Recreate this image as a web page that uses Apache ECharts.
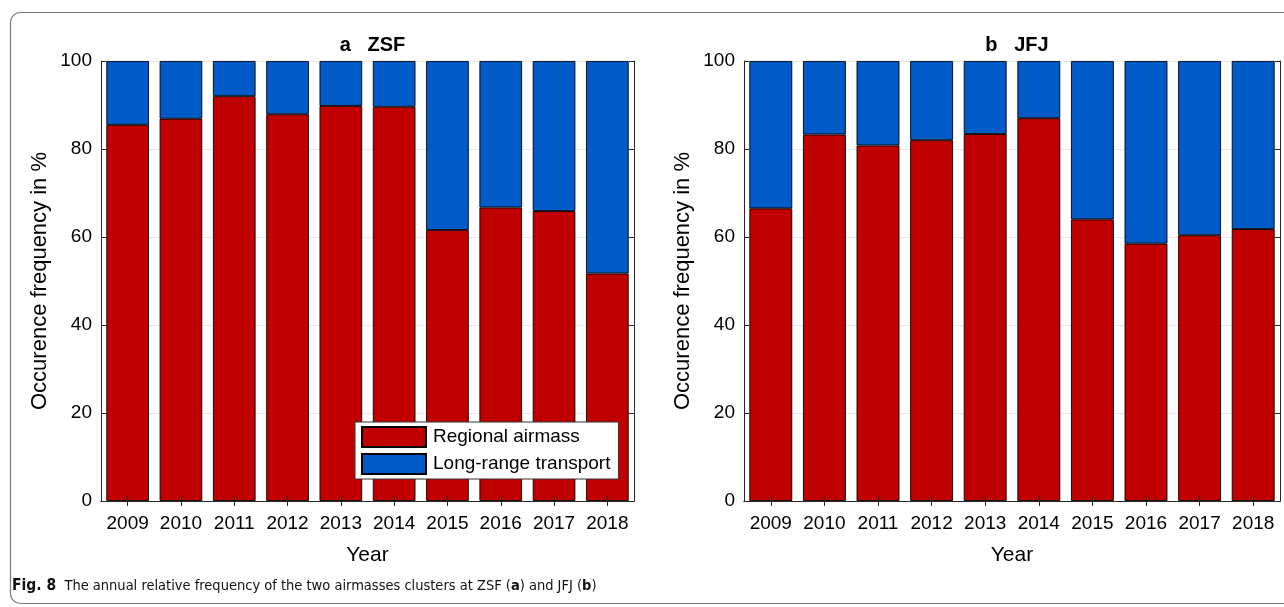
<!DOCTYPE html>
<html>
<head>
<meta charset="utf-8">
<title>Annual relative frequency of airmass clusters at ZSF and JFJ</title>
<script src="https://cdn.jsdelivr.net/npm/echarts@6/dist/echarts.min.js"></script>
<style>
  html, body { margin: 0; padding: 0; background: #fff; }
  #chart { width: 1284px; height: 607px; }
</style>
</head>
<body>
<div id="chart"></div>
<script>
// Years on the x axis of both panels
const years = ['2009', '2010', '2011', '2012', '2013', '2014', '2015', '2016', '2017', '2018'];

// ZSF: share of regional airmass and long-range transport (%)
const zsfRegional = [85.5, 86.9, 92.0, 87.9, 89.8, 89.6, 61.6, 66.7, 65.9, 51.7];
const zsfLongRange = [14.5, 13.1, 8.0, 12.1, 10.2, 10.4, 38.4, 33.3, 34.1, 48.3];

// JFJ: share of regional airmass and long-range transport (%)
const jfjRegional = [66.5, 83.3, 80.8, 82.0, 83.4, 87.0, 64.0, 58.5, 60.4, 61.8];
const jfjLongRange = [33.5, 16.7, 19.2, 18.0, 16.6, 13.0, 36.0, 41.5, 39.6, 38.2];

// Y axis ticks
const yTicks = { min: 0, max: 100, interval: 20 };

const seriesNames = ['Regional airmass', 'Long-range transport'];
const panelTitles = ['a   ZSF', 'b   JFJ'];

const RED = '#c00000';
const BLUE = '#005ac8';
const INK = '#262626';
const FONT = '"Liberation Sans", Arial, Helvetica, sans-serif';
const NARROW = '"Liberation Sans Narrow", "DejaVu Sans Condensed", sans-serif';

const chart = echarts.init(document.getElementById('chart'), null, { renderer: 'canvas' });

const grids = [
  { left: 101, top: 61, width: 533, height: 440 },
  { left: 744, top: 61, width: 536, height: 440 }
];

function xAxes(gridIndex) {
  const base = {
    type: 'category', data: years, gridIndex, z: 5,
    axisLine: { show: true, lineStyle: { color: INK, width: 1 } },
    axisTick: { show: true, inside: true, length: 5, alignWithLabel: true, interval: 0, lineStyle: { color: INK } },
    splitLine: { show: false }
  };
  return [
    Object.assign({}, base, {
      position: 'bottom',
      axisLabel: { show: true, interval: 0, color: '#000', fontFamily: FONT, fontSize: 19, margin: 13 },
      name: 'Year', nameLocation: 'middle', nameGap: 44,
      nameTextStyle: { color: '#000', fontFamily: FONT, fontSize: 21 }
    }),
    Object.assign({}, base, { position: 'top', axisLabel: { show: false } })
  ];
}

function yAxes(gridIndex) {
  const base = Object.assign({ type: 'value', gridIndex }, yTicks);
  return [
    // light grid lines behind the bars
    Object.assign({}, base, {
      position: 'left', z: 0,
      axisLine: { show: false }, axisTick: { show: false }, axisLabel: { show: false },
      splitLine: { show: true, lineStyle: { color: '#e6e6e6', width: 1 } }
    }),
    Object.assign({}, base, {
      position: 'left', z: 5,
      axisLine: { show: true, onZero: false, lineStyle: { color: INK, width: 1 } },
      axisTick: { show: true, inside: true, length: 5, lineStyle: { color: INK } },
      axisLabel: { show: true, color: '#000', fontFamily: FONT, fontSize: 19, margin: 9 },
      splitLine: { show: false },
      name: 'Occurence frequency in %', nameLocation: 'middle', nameGap: 50,
      nameTextStyle: { color: '#000', fontFamily: FONT, fontSize: 22 }
    }),
    Object.assign({}, base, {
      position: 'right', z: 5,
      axisLine: { show: true, onZero: false, lineStyle: { color: INK, width: 1 } },
      axisTick: { show: true, inside: true, length: 5, lineStyle: { color: INK } },
      axisLabel: { show: false },
      splitLine: { show: false }
    })
  ];
}

function panelSeries(gridIndex, regional, longRange) {
  const axisRefs = { xAxisIndex: gridIndex * 2, yAxisIndex: gridIndex * 3 + 1 };
  const common = {
    type: 'bar', stack: 'panel' + gridIndex, barWidth: '80%',
    emphasis: { disabled: true }, animation: false
  };
  return [
    Object.assign({}, common, axisRefs, {
      name: seriesNames[0], data: regional,
      itemStyle: { color: RED, borderColor: '#000', borderWidth: 0.9 }
    }),
    Object.assign({}, common, axisRefs, {
      name: seriesNames[1], data: longRange,
      itemStyle: { color: BLUE, borderColor: '#000', borderWidth: 0.9 }
    })
  ];
}

const option = {
  backgroundColor: '#fff',
  animation: false,
  textStyle: { fontFamily: FONT },
  title: [
    { text: panelTitles[0], left: 101 + 533 / 2, top: 30, textAlign: 'center',
      textStyle: { fontFamily: FONT, fontSize: 20, fontWeight: 'bold', color: '#000' } },
    { text: panelTitles[1], left: 744 + 536 / 2, top: 30, textAlign: 'center',
      textStyle: { fontFamily: FONT, fontSize: 20, fontWeight: 'bold', color: '#000' } }
  ],
  grid: grids,
  legend: {
    data: seriesNames,
    orient: 'vertical',
    left: 355, top: 422,
    icon: 'rect',
    itemWidth: 64, itemHeight: 20, itemGap: 5,
    padding: [4, 8, 4, 6],
    backgroundColor: '#fff',
    borderColor: '#333', borderWidth: 1,
    selectedMode: false,
    textStyle: { fontFamily: FONT, fontSize: 19, color: '#000', padding: [0, 0, 0, 2] }
  },
  xAxis: [].concat(xAxes(0), xAxes(1)),
  yAxis: [].concat(yAxes(0), yAxes(1)),
  series: [].concat(
    panelSeries(0, zsfRegional, zsfLongRange),
    panelSeries(1, jfjRegional, jfjLongRange)
  ),
  graphic: [
    // rounded frame around the figure
    { type: 'rect', z: -1, silent: true,
      shape: { x: 10.5, y: 12.5, width: 1290, height: 591, r: 10 },
      style: { fill: 'none', stroke: '#7a7a7a', lineWidth: 1.2 } },
    // figure caption
    { type: 'text', left: 12, top: 578, silent: true,
      style: {
        text: '{b|Fig. 8}  The annual relative frequency of the two airmasses clusters at ZSF ({a|a}) and JFJ ({a|b})',
        font: '14.5px ' + NARROW,
        fill: '#111',
        rich: {
          b: { fontWeight: 'bold', fontSize: 15.5, fontFamily: NARROW, fill: '#111' },
          a: { fontWeight: 'bold', fontSize: 14.5, fontFamily: NARROW, fill: '#111' }
        }
      } }
  ]
};

chart.setOption(option);
</script>
</body>
</html>
